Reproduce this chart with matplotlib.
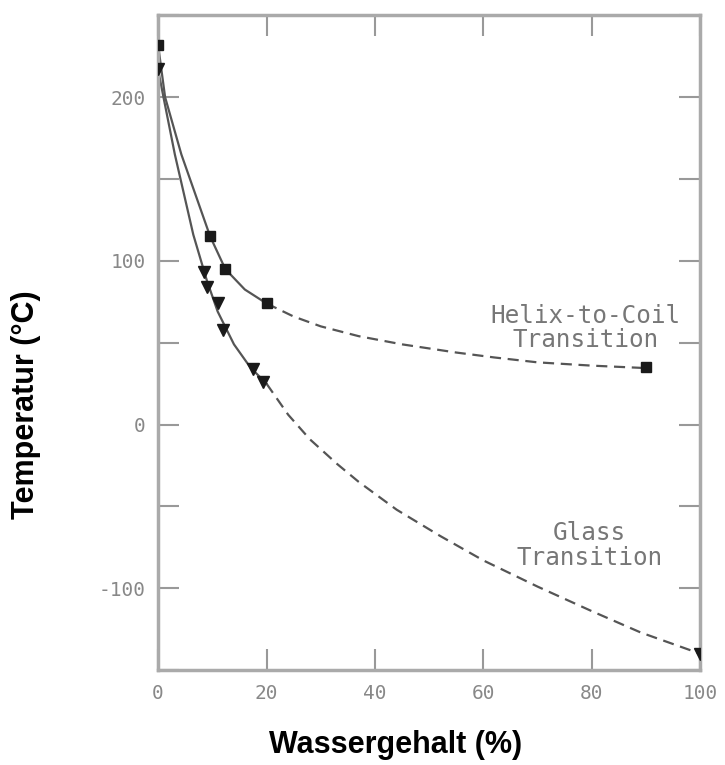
import matplotlib
matplotlib.use("Agg")
import matplotlib.pyplot as plt

# measured markers (water content %, temperature C)
helix_x = [0, 9.6, 12.4, 20, 90]
helix_t = [232, 115, 95, 74, 35]
glass_x = [0, 8.5, 9, 11, 12, 17.6, 19.4, 100]
glass_t = [217, 93, 84, 74, 58, 34, 26, -140]

# fitted curves
helix_solid_x = [0, 1.3, 4.3, 9.6, 12.4, 16, 20]
helix_solid_t = [232, 200, 165, 115, 95, 82.5, 74]
helix_dash_x = [20, 25, 30, 37, 45, 55, 62, 70, 80, 90]
helix_dash_t = [74, 66, 60, 54, 49, 44, 41, 38, 36, 34.5]

glass_solid_x = [0, 1, 3.1, 6.5, 9, 11, 14, 17, 20]
glass_solid_t = [217, 200, 165, 116, 88, 69, 49, 35, 25]
glass_dash_x = [20, 24, 28, 33, 37, 44, 52, 60, 70, 80, 89, 100]
glass_dash_t = [25, 6, -9, -24, -35, -52, -68, -83, -99, -114, -127, -140]

x_ticks = [0, 20, 40, 60, 80, 100]
y_ticks = [-100, 0, 100, 200]

fig = plt.figure(figsize=(7.25, 7.65), dpi=100)
ax = fig.add_axes([0.218, 0.124, 0.748, 0.856])

line_col = "#555555"
ax.plot(helix_solid_x, helix_solid_t, color=line_col, lw=1.6)
ax.plot(helix_dash_x, helix_dash_t, color=line_col, lw=1.6, dashes=(5, 3))
ax.plot(glass_solid_x, glass_solid_t, color=line_col, lw=1.6)
ax.plot(glass_dash_x, glass_dash_t, color=line_col, lw=1.6, dashes=(5, 3))

ax.plot(helix_x, helix_t, "s", color="#1a1a1a", ms=7, zorder=3)
ax.plot(glass_x, glass_t, "v", color="#1a1a1a", ms=8, zorder=3)

ax.set_xlim(0, 100)
ax.set_ylim(-150, 250)
ax.set_xticks(x_ticks)
ax.set_yticks(y_ticks)
ax.set_yticks(range(-150, 251, 50), minor=True)
ax.set_xticklabels([str(v) for v in x_ticks])
ax.set_yticklabels([str(v) for v in y_ticks])

ax.tick_params(which="both", direction="in", top=True, right=True,
               length=15, width=1.5, color="#999999",
               labelcolor="#888888", labelsize=14)
ax.tick_params(axis="x", pad=10)
ax.tick_params(axis="y", pad=9)
for lab in ax.get_xticklabels() + ax.get_yticklabels():
    lab.set_family("DejaVu Sans Mono")

for s in ax.spines.values():
    s.set_color("#aaaaaa")
    s.set_linewidth(2.5)

ax.text(78.8, 59, "Helix-to-Coil\nTransition", ha="center", va="center",
        family="DejaVu Sans Mono", fontsize=17.5, color="#777777",
        linespacing=1.05)
ax.text(79.6, -74, "Glass\nTransition", ha="center", va="center",
        family="DejaVu Sans Mono", fontsize=17.5, color="#777777",
        linespacing=1.05)

fig.text(0.036, 0.471, "Temperatur (°C)", rotation=90, ha="center",
         va="center", family="Liberation Sans", fontweight="bold",
         fontsize=22)
fig.text(0.545, 0.026, "Wassergehalt (%)", ha="center", va="center",
         family="Liberation Sans", fontweight="bold", fontsize=22)

fig.savefig("out.png", dpi=100)
